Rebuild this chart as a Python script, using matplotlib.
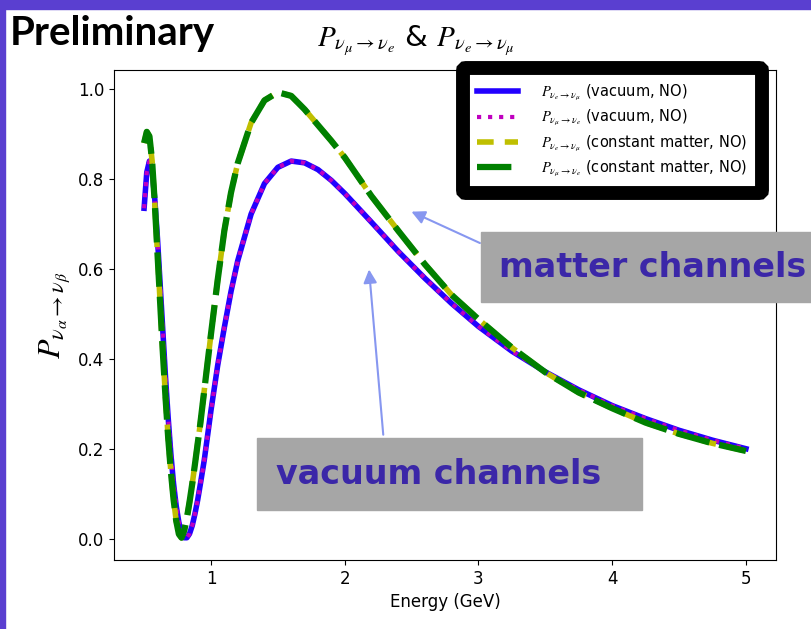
import numpy as np
import matplotlib.pyplot as plt
from matplotlib.patches import Rectangle

plt.rcParams['mathtext.fontset'] = 'stix'

energy = [0.50, 0.52, 0.54, 0.56, 0.58, 0.60, 0.62, 0.64, 0.66, 0.68,
          0.70, 0.72, 0.74, 0.76, 0.78, 0.80, 0.82, 0.84, 0.86, 0.88,
          0.90, 0.92, 0.95, 1.00, 1.05, 1.10, 1.15, 1.20, 1.30, 1.40,
          1.50, 1.60, 1.70, 1.80, 1.90, 2.00, 2.20, 2.40, 2.60, 2.80,
          3.00, 3.25, 3.50, 3.75, 4.00, 4.25, 4.50, 4.75, 5.00]

# vacuum channels (both directions overlap)
p_vac_emu = [0.735, 0.815, 0.840, 0.818, 0.755, 0.668, 0.566, 0.463, 0.360, 0.269,
             0.189, 0.123, 0.073, 0.036, 0.012, 0.002, 0.002, 0.011, 0.029, 0.055,
             0.085, 0.120, 0.175, 0.285, 0.385, 0.470, 0.550, 0.618, 0.722, 0.790,
             0.826, 0.840, 0.836, 0.821, 0.797, 0.768, 0.704, 0.639, 0.579, 0.523,
             0.472, 0.417, 0.371, 0.331, 0.296, 0.267, 0.241, 0.219, 0.200]
p_vac_mue = [0.735, 0.815, 0.840, 0.818, 0.755, 0.668, 0.566, 0.463, 0.360, 0.269,
             0.189, 0.123, 0.073, 0.036, 0.012, 0.002, 0.002, 0.011, 0.029, 0.055,
             0.085, 0.120, 0.175, 0.285, 0.385, 0.470, 0.550, 0.618, 0.722, 0.790,
             0.826, 0.840, 0.836, 0.821, 0.797, 0.768, 0.704, 0.639, 0.579, 0.523,
             0.472, 0.417, 0.371, 0.331, 0.296, 0.267, 0.241, 0.219, 0.200]

# constant matter channels (both directions overlap)
p_mat_emu = [0.880, 0.905, 0.895, 0.840, 0.745, 0.635, 0.525, 0.415, 0.315, 0.225,
             0.150, 0.088, 0.040, 0.010, 0.002, 0.018, 0.046, 0.082, 0.122, 0.165,
             0.210, 0.255, 0.330, 0.455, 0.575, 0.685, 0.770, 0.835, 0.925, 0.975,
             0.993, 0.985, 0.955, 0.920, 0.885, 0.848, 0.762, 0.685, 0.610, 0.542,
             0.488, 0.425, 0.370, 0.325, 0.290, 0.258, 0.233, 0.212, 0.195]
p_mat_mue = [0.880, 0.905, 0.895, 0.840, 0.745, 0.635, 0.525, 0.415, 0.315, 0.225,
             0.150, 0.088, 0.040, 0.010, 0.002, 0.018, 0.046, 0.082, 0.122, 0.165,
             0.210, 0.255, 0.330, 0.455, 0.575, 0.685, 0.770, 0.835, 0.925, 0.975,
             0.993, 0.985, 0.955, 0.920, 0.885, 0.848, 0.762, 0.685, 0.610, 0.542,
             0.488, 0.425, 0.370, 0.325, 0.290, 0.258, 0.233, 0.212, 0.195]

fig = plt.figure(figsize=(8.12, 6.29), dpi=100)
ax = fig.add_axes([0.1404, 0.1097, 0.8153, 0.779])

ax.plot(energy, p_vac_emu, color='#2200ff', lw=4,
        label=r'$P_{\nu_e\to\nu_\mu}$ (vacuum, NO)')
ax.plot(energy, p_vac_mue, color='m', lw=3, ls=':',
        label=r'$P_{\nu_\mu\to\nu_e}$ (vacuum, NO)')
ax.plot(energy, p_mat_emu, color='y', lw=4, ls=(0, (3, 2)),
        label=r'$P_{\nu_e\to\nu_\mu}$ (constant matter, NO)')
ax.plot(energy, p_mat_mue, color='g', lw=4.5, ls=(0, (5.5, 1.6)),
        label=r'$P_{\nu_\mu\to\nu_e}$ (constant matter, NO)')

ax.set_xlabel('Energy (GeV)', fontsize=12)
ax.set_ylabel(r'$P_{\nu_\alpha\to\nu_\beta}$', fontsize=23)
ax.tick_params(labelsize=12)
ax.set_xticks([1, 2, 3, 4, 5])
ax.set_yticks([0.0, 0.2, 0.4, 0.6, 0.8, 1.0])

leg = ax.legend(loc='upper right', bbox_to_anchor=(0.99, 1.018), fontsize=10.5,
                handlelength=2.8, fancybox=True, framealpha=1,
                borderpad=1.0, labelspacing=0.35, handletextpad=1.6)
leg.get_frame().set_edgecolor('black')
leg.get_frame().set_linewidth(10)

# slide decorations
fig.text(0.012, 0.947, 'Preliminary', fontsize=29, fontweight='bold',
         family='Lato', va='center')
fig.text(0.512, 0.935, r'$P_{\nu_\mu\to\nu_e}$ & $P_{\nu_e\to\nu_\mu}$',
         fontsize=21, ha='center', va='center')
fig.patches.append(Rectangle((0, 0.986), 1, 0.014, transform=fig.transFigure,
                             color='#5a3fd0', zorder=5))
fig.patches.append(Rectangle((0, 0), 0.006, 1, transform=fig.transFigure,
                             color='#5a3fd0', zorder=5))

# grey label boxes with arrows
fig.patches.append(Rectangle((0.592, 0.52), 0.41, 0.111, transform=fig.transFigure,
                             color='#a6a6a6', zorder=3))
fig.patches.append(Rectangle((0.3165, 0.189), 0.474, 0.115, transform=fig.transFigure,
                             color='#a6a6a6', zorder=3))
ax.annotate('', xy=(2.48, 0.73), xytext=(3.03, 0.655),
            arrowprops=dict(arrowstyle='-|>', color='#8797f0', lw=1.5,
                            mutation_scale=20))
ax.annotate('', xy=(2.18, 0.605), xytext=(2.29, 0.225),
            arrowprops=dict(arrowstyle='-|>', color='#8797f0', lw=1.5,
                            mutation_scale=20))
fig.text(0.615, 0.575, 'matter channels', fontsize=24, fontweight='bold',
         color='#3b27a8', va='center', zorder=4)
fig.text(0.34, 0.245, 'vacuum channels', fontsize=24, fontweight='bold',
         color='#3b27a8', va='center', zorder=4)

fig.savefig('out.png', dpi=100)
